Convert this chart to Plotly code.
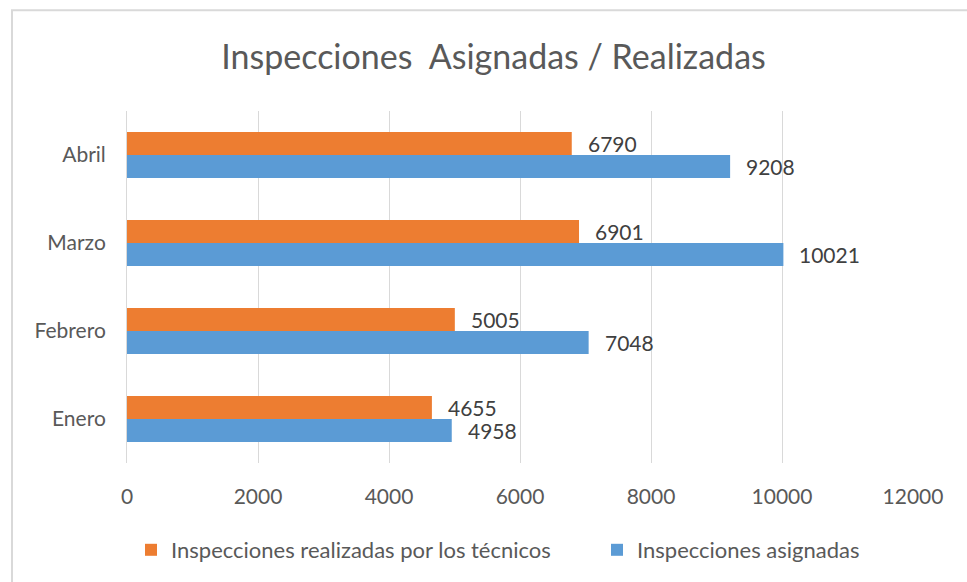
import plotly.graph_objects as go

meses = ["Enero", "Febrero", "Marzo", "Abril"]
asignadas = [4958, 7048, 10021, 9208]
realizadas = [4655, 5005, 6901, 6790]
x_ticks = [0, 2000, 4000, 6000, 8000, 10000, 12000]

FONT = "Lato"
ORANGE = "#ED7D31"
BLUE = "#5B9BD5"

L, R, T, B = 127, 54, 111, 118
W, H = 967, 582
pw, ph = W - L - R, H - T - B

def px(xp):
    return (xp - L) / pw

def py(yp):
    return (H - B - yp) / ph

fig = go.Figure()
fig.add_trace(go.Bar(
    y=meses, x=asignadas, orientation="h", name="Inspecciones asignadas",
    marker=dict(color=BLUE, line=dict(width=0)), legend="legend2",
))
fig.add_trace(go.Bar(
    y=meses, x=realizadas, orientation="h", name="Inspecciones realizadas por los técnicos",
    marker=dict(color=ORANGE, line=dict(width=0)), legend="legend",
))

# data labels
for i, m in enumerate(meses):
    fig.add_annotation(x=realizadas[i], y=i + 0.13, xref="x", yref="y", text=str(realizadas[i]),
                       showarrow=False, xanchor="left", xshift=14,
                       font=dict(family=FONT, size=21, color="#404040"))
    fig.add_annotation(x=asignadas[i], y=i - 0.13, xref="x", yref="y", text=str(asignadas[i]),
                       showarrow=False, xanchor="left", xshift=14,
                       font=dict(family=FONT, size=21, color="#404040"))

fig.add_shape(type="path", xref="paper", yref="paper",
              path=f"M {px(12)} {py(700)} L {px(12)} {py(10)} L {px(1000)} {py(10)}",
              line=dict(color="#D9D9D9", width=2))

leg_font = dict(family=FONT, size=22, color="#595959")
fig.update_layout(
    width=W, height=H,
    margin=dict(l=L, r=R, t=T, b=B),
    paper_bgcolor="white", plot_bgcolor="white",
    barmode="group", bargap=0.48, bargroupgap=0,
    title=dict(text="Inspecciones  Asignadas / Realizadas", xref="container", x=493.5 / W,
               xanchor="center", y=1 - 57 / H, yanchor="middle",
               font=dict(family=FONT, size=34, color="#595959")),
    xaxis=dict(range=[0, 12000], tickvals=x_ticks, ticktext=[str(v) for v in x_ticks],
               showgrid=True, gridcolor="#D9D9D9", gridwidth=1, zeroline=False,
               showline=False, ticks="", ticklabelstandoff=19,
               tickfont=dict(family=FONT, size=21, color="#595959")),
    yaxis=dict(showline=True, linecolor="#D9D9D9", linewidth=1, ticks="",
               showgrid=False, ticklabelstandoff=16,
               tickfont=dict(family=FONT, size=21, color="#595959")),
    legend=dict(orientation="h", x=px(131), xanchor="left", y=py(550), yanchor="middle",
                font=leg_font, itemwidth=30, bgcolor="rgba(0,0,0,0)"),
    legend2=dict(orientation="h", x=px(597), xanchor="left", y=py(550), yanchor="middle",
                 font=leg_font, itemwidth=30, bgcolor="rgba(0,0,0,0)"),
    showlegend=True,
)

fig.write_html("out.html", config={"displayModeBar": False},
               post_script="document.body.style.margin='0';")
